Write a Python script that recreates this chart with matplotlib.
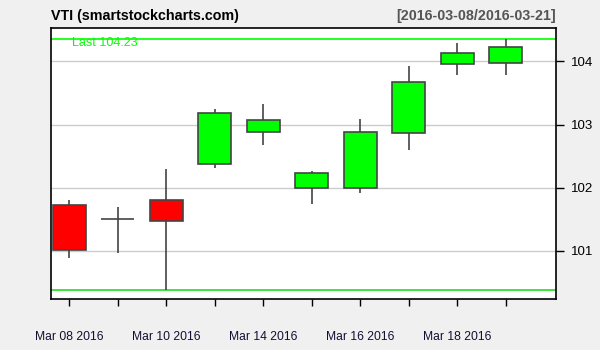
import matplotlib
matplotlib.use("Agg")
import matplotlib.pyplot as plt

plt.rcParams['font.family'] = ['Liberation Sans', 'DejaVu Sans']

# VTI daily OHLC
dates = ["Mar 08 2016", "Mar 09 2016", "Mar 10 2016", "Mar 11 2016", "Mar 14 2016",
         "Mar 15 2016", "Mar 16 2016", "Mar 17 2016", "Mar 18 2016", "Mar 21 2016"]
opens = [101.72, 101.50, 101.80, 102.37, 102.88, 101.99, 101.99, 102.86, 103.95, 103.98]
highs = [101.81, 101.69, 102.29, 103.24, 103.32, 102.26, 103.09, 103.93, 104.29, 104.36]
lows = [100.89, 100.97, 100.39, 102.32, 102.68, 101.75, 101.91, 102.59, 103.79, 103.79]
closes = [101.01, 101.50, 101.47, 103.19, 103.07, 102.23, 102.88, 103.67, 104.13, 104.23]
yticks = [101, 102, 103, 104]

fig = plt.figure(figsize=(6, 3.5), dpi=100, facecolor="#f0f0f0")
ax = fig.add_axes([0.0842, 0.1457, 0.8425, 0.7743])
ax.set_facecolor("white")

x = list(range(1, len(dates) + 1))
w = 0.68

# grid
for t in yticks:
    ax.axhline(t, color="#cccccc", lw=1, zorder=1)

# range lines
ax.axhline(max(highs), color="#00ff00", lw=1.2, zorder=2)
ax.axhline(min(lows), color="#22dd22", lw=1.2, zorder=2)

# wicks
ax.vlines(x, lows, highs, color="#444444", lw=1.2, zorder=3)

# bodies
for i, o, c in zip(x, opens, closes):
    if c > o:
        ax.bar(i, c - o, bottom=o, width=w, color="#00ff00", edgecolor="#444444", lw=1.2, zorder=4)
    elif c < o:
        ax.bar(i, o - c, bottom=c, width=w, color="#ff0000", edgecolor="#444444", lw=1.2, zorder=4)
    else:
        ax.hlines(o, i - w / 2, i + w / 2, color="#444444", lw=1.2, zorder=4)

ax.set_xlim(0.61, 11.04)
ax.set_ylim(100.24, 104.527)

ax.set_xticks(x)
ax.set_xticklabels([d if k % 2 == 0 else "" for k, d in enumerate(dates)])
ax.yaxis.tick_right()
ax.set_yticks(yticks)
ax.tick_params(axis="x", length=5, width=1, pad=18, labelsize=8.7, colors="black", labelcolor="#111133")
ax.tick_params(axis="y", length=6, width=1, pad=5, labelsize=9.5, labelcolor="black")

for s in ax.spines.values():
    s.set_linewidth(1.2)
    s.set_color("black")

ax.text(0.0425, 0.944, "Last %.2f" % closes[-1], transform=ax.transAxes, color="#00ff00",
        fontsize=9, va="center", ha="left")

fig.text(0.0842, 0.955, "VTI (smartstockcharts.com)", fontsize=10.3, fontweight="bold",
         ha="left", va="center", color="black")
fig.text(0.9267, 0.955, "[2016-03-08/2016-03-21]", fontsize=10.3, fontweight="bold",
         ha="right", va="center", color="#555555")

fig.savefig("out.png", dpi=100, facecolor=fig.get_facecolor())
